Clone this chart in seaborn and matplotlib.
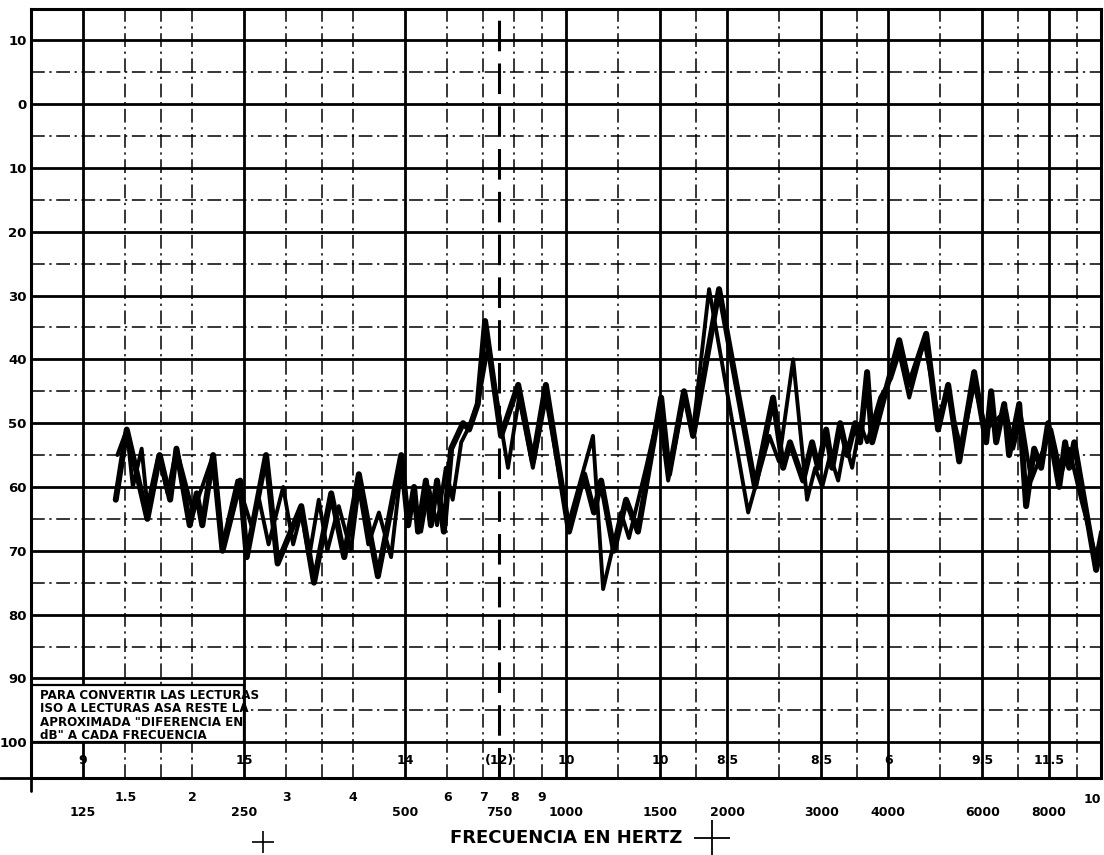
import numpy as np
import pandas as pd
import seaborn as sns
import matplotlib.pyplot as plt
from matplotlib.patches import Rectangle

# Trazo grueso (Hz, dB HL)
thick_hz = [144, 151, 165, 174, 182, 187, 198, 204, 209, 219, 228, 246, 253, 275, 289, 320,
            338, 364, 385, 410, 445, 492, 507, 520, 529, 547, 559, 574, 591, 610, 642, 659,
            684, 706, 756, 814, 867, 917, 1013, 1081, 1128, 1163, 1229, 1295, 1363, 1506,
            1558, 1662, 1728, 1932, 2256, 2438, 2546, 2622, 2774, 2884, 2960, 3064, 3144,
            3254, 3354, 3470, 3546, 3654, 3734, 4196, 4380, 4712, 4960, 5180, 5432, 5792,
            6100, 6232, 6368, 6592, 6732, 7032, 7244, 7500, 7728, 7964, 8352, 8568, 8720,
            8912, 9792, 10000]
thick_db = [62, 51, 65, 55, 62, 54, 66, 61, 66, 55, 70, 59, 71, 55, 72, 63,
            75, 61, 71, 58, 74, 55, 66, 60, 67, 59, 66, 59, 67, 54, 50, 51,
            47, 34, 52, 44, 56, 44, 67, 58, 64, 59, 70, 62, 67, 46,
            58, 45, 52, 29, 60, 46, 57, 53, 59, 53, 57, 51, 57,
            50, 55, 50, 53, 42, 53, 37, 44, 36, 51, 44, 56, 42,
            53, 45, 53, 47, 55, 47, 63, 54, 57, 50, 60, 53, 57,
            53, 73, 69]

# Trazo fino (Hz, dB HL)
thin_hz = [145, 151, 155, 161, 165, 173, 180, 187, 201, 219, 228, 243, 258, 267, 278, 296,
           309, 320, 331, 345, 358, 376, 396, 410, 427, 447, 471, 492, 507, 520, 536, 554,
           574, 596, 614, 637, 664, 688, 715, 779, 817, 867, 917, 1009, 1123, 1173, 1267,
           1311, 1411, 1493, 1552, 1662, 1728, 1851, 2190, 2400, 2500, 2658, 2822, 2922,
           3012, 3116, 3226, 3324, 3426, 3546, 3654, 3864, 4052, 4196, 4380, 4672, 4960,
           5180, 5292, 5476, 5792, 6100, 6648, 6852, 7092, 7404, 7728, 8072, 8424, 8720,
           9184, 9792, 10000]
thin_db = [55, 51, 60, 54, 63, 55, 61, 54, 64, 55, 69, 59, 66, 62, 69, 60,
           69, 64, 71, 62, 70, 63, 70, 60, 69, 64, 71, 57, 65, 61, 67, 60,
           66, 57, 62, 53, 50, 46, 38, 57, 46, 57, 46, 66, 52, 76, 64,
           68, 57, 48, 59, 46, 51, 29, 64, 52, 56, 40, 62, 57,
           60, 55, 59, 53, 57, 50, 53, 46, 43, 39, 46, 37, 49,
           45, 49, 54, 44, 51, 48, 54, 49, 59, 55, 51, 58, 54,
           62, 71, 67]

freq_ticks = [125, 250, 500, 750, 1000, 1500, 2000, 3000, 4000, 6000, 8000]
freq_labels = ['125', '250', '500', '750', '1000', '1500', '2000', '3000', '4000', '6000', '8000']
hundred_ticks = [150, 200, 300, 400, 600, 700, 800, 900]
hundred_labels = ['1.5', '2', '3', '4', '6', '7', '8', '9']
iso_asa_diff = ['9', '15', '14', '(12)', '10', '10', '8.5', '8.5', '6', '9.5', '11.5']
db_ticks = list(range(-10, 101, 10))
db_half = list(range(-5, 100, 10))

solid_freqs = [125, 250, 500, 1000, 1500, 2000, 3000, 4000, 6000, 8000]
dashed_freqs = [150, 175, 200, 300, 350, 400, 600, 700, 800, 900,
                1250, 1750, 2500, 3500, 5000, 7000, 9000]

note = ('PARA CONVERTIR LAS LECTURAS\nISO A LECTURAS ASA RESTE LA\n'
        'APROXIMADA "DIFERENCIA EN\ndB" A CADA FRECUENCIA')

sns.set_style("white")
plt.rcParams['font.family'] = ['Liberation Sans Narrow', 'DejaVu Sans']
plt.rcParams['font.weight'] = 'bold'
for key in ['text.color', 'axes.labelcolor', 'xtick.color', 'ytick.color']:
    plt.rcParams[key] = 'black'

fig = plt.figure(figsize=(11.04, 8.55), dpi=100)
ax = fig.add_axes([0.0281, 0.0901, 0.9692, 0.8994])
ax.set_xscale('log')
ax.set_xlim(100, 10000)
ax.set_ylim(105.6, -14.9)

# rejilla
dash = (0, (9, 3, 1.5, 3))
for y in db_ticks:
    ax.axhline(y, color='black', lw=2.0, zorder=1)
for y in db_half:
    ax.axhline(y, color='black', lw=1.1, ls=dash, zorder=1)
for f in solid_freqs:
    ax.axvline(f, color='black', lw=2.0, zorder=1)
for f in dashed_freqs:
    ax.axvline(f, color='black', lw=1.1, ls=dash, zorder=1)
ax.axvline(750, color='black', lw=2.2, ls=(0, (10, 4)), zorder=1)

# recuadro de nota
ax.add_patch(Rectangle((100, 91), 150, 9, facecolor='white', edgecolor='black',
                       lw=1.6, zorder=2))
ax.text(104, 91.6, note, ha='left', va='top', fontsize=8.6, fontweight='bold',
        color='black', linespacing=1.05, zorder=3)

# trazos
thick = pd.DataFrame({'hz': thick_hz, 'db': thick_db})
thin = pd.DataFrame({'hz': thin_hz, 'db': thin_db})
sns.lineplot(data=thin, x='hz', y='db', sort=False, estimator=None, color='black',
             lw=2.8, ax=ax, zorder=4)
sns.lineplot(data=thick, x='hz', y='db', sort=False, estimator=None, color='black',
             lw=4.3, ax=ax, zorder=5)

# diferencia ISO-ASA
for f, s in zip(freq_ticks, iso_asa_diff):
    ax.text(f, 102.8, s, ha='center', va='center', fontsize=9, fontweight='bold',
            color='black', zorder=3)

# ejes
ax.set_yticks(db_ticks, labels=[str(abs(v)) for v in db_ticks])
ax.tick_params(axis='y', length=0, pad=3, labelsize=9.5, labelcolor='black')
ax.set_xticks([])
ax.minorticks_off()
ax.set_xlabel('')
ax.set_ylabel('')
for sp in ax.spines.values():
    sp.set_color('black')
    sp.set_linewidth(2.2)

for f, s in zip(hundred_ticks, hundred_labels):
    ax.text(f, 108.6, s, ha='center', va='center', fontsize=9, fontweight='bold',
            color='black', clip_on=False)
for f, s in zip(freq_ticks, freq_labels):
    ax.text(f, 111.0, s, ha='center', va='center', fontsize=9, fontweight='bold',
            color='black', clip_on=False)
ax.text(10000, 109.0, '10', ha='right', va='center', fontsize=9, fontweight='bold',
        color='black', clip_on=False)

ax.text(1000, 115.0, 'FRECUENCIA EN HERTZ', ha='center', va='center', fontsize=13,
        fontweight='bold', color='black', clip_on=False)

# marcas de registro
ax.plot([87.5, 100], [105.6, 105.6], color='black', lw=2.0, clip_on=False)
ax.plot([100, 100], [105.6, 107.6], color='black', lw=2.0, clip_on=False)
ax.plot([271], [115.6], marker='+', ms=16, mew=1.2, color='black', clip_on=False)
ax.plot([1874], [115.0], marker='+', ms=26, mew=1.3, color='black', clip_on=False)

fig.savefig('out.png', dpi=100, facecolor='white')
